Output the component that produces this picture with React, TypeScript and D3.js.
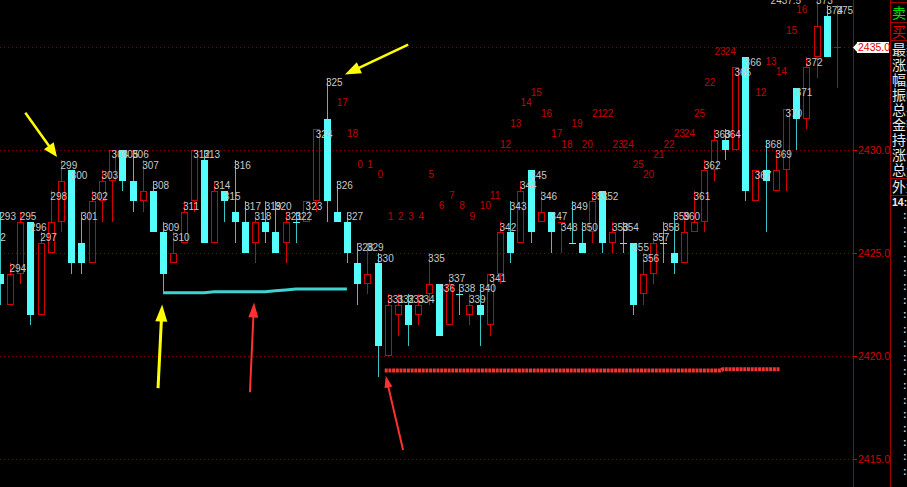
import React from 'react';
import * as d3 from 'd3';

// ---------- data ----------
const candleNo = [292,293,294,295,296,297,298,299,300,301,302,303,304,305,306,307,308,309,310,311,312,313,314,315,316,317,318,319,320,321,322,323,324,325,326,327,328,329,330,331,332,333,334,335,336,337,338,339,340,341,342,343,344,345,346,347,348,349,350,351,352,353,354,355,356,357,358,359,360,361,362,363,364,365,366,367,368,369,370,371,372,373,374,375];
const open = [2425.0,2424.0,2422.5,2424.0,2426.5,2422.0,2425.0,2426.5,2429.0,2425.5,2424.5,2427.5,2428.5,2430.0,2428.5,2427.5,2428.0,2426.0,2424.5,2425.5,2427.5,2429.5,2425.5,2428.0,2427.0,2426.5,2425.5,2426.5,2426.0,2425.5,2426.5,2426.5,2427.5,2431.5,2427.0,2426.5,2424.5,2423.5,2424.5,2420.0,2422.0,2422.5,2422.0,2423.0,2423.5,2421.5,2423.0,2422.0,2422.5,2421.5,2424.0,2426.0,2425.5,2429.0,2426.5,2427.0,2426.5,2425.5,2425.5,2426.0,2428.0,2425.5,2425.5,2425.5,2423.0,2424.0,2425.5,2425.0,2424.5,2426.0,2426.5,2429.0,2430.5,2430.0,2434.5,2427.5,2429.0,2428.0,2429.0,2433.0,2431.5,2434.5,2436.5,2435.0];
const high = [2426.0,2427.0,2424.5,2427.0,2426.5,2426.0,2428.0,2429.5,2429.0,2427.0,2428.0,2429.0,2430.0,2430.0,2430.0,2429.5,2428.5,2426.5,2426.0,2427.5,2430.0,2430.0,2428.5,2428.0,2429.5,2427.5,2427.0,2427.5,2427.5,2427.0,2427.0,2427.5,2431.0,2433.5,2428.5,2427.0,2425.5,2425.5,2425.0,2423.0,2423.0,2423.0,2423.0,2425.0,2423.5,2424.0,2423.5,2423.0,2423.5,2424.0,2426.5,2427.5,2428.5,2429.0,2428.0,2427.0,2426.5,2427.5,2426.5,2428.0,2428.0,2426.5,2426.5,2425.5,2425.0,2426.0,2426.5,2427.0,2427.0,2428.0,2429.5,2431.0,2431.0,2434.0,2434.5,2429.0,2430.5,2430.0,2432.0,2433.0,2434.5,2437.5,2437.0,2437.0];
const low = [2424.5,2422.5,2422.5,2423.5,2421.5,2422.0,2425.0,2426.0,2424.0,2424.0,2424.5,2426.5,2426.5,2428.0,2427.0,2427.0,2426.0,2423.0,2424.5,2425.5,2427.0,2425.5,2425.5,2426.5,2425.5,2425.0,2424.5,2425.5,2425.0,2424.5,2425.5,2426.5,2427.0,2426.5,2426.5,2424.5,2422.5,2423.0,2419.0,2420.0,2421.0,2420.5,2421.5,2422.5,2421.0,2421.5,2422.0,2421.5,2420.5,2421.0,2423.5,2424.5,2425.5,2425.5,2426.5,2425.0,2425.0,2425.5,2425.0,2425.5,2425.0,2425.0,2425.0,2422.0,2422.5,2423.5,2424.5,2424.0,2424.5,2426.0,2426.0,2428.5,2429.5,2430.0,2427.5,2427.5,2426.0,2428.0,2428.0,2430.0,2431.0,2433.5,2434.5,2433.0];
const close = [2425.5,2423.5,2424.0,2426.5,2422.0,2425.5,2426.5,2428.5,2424.5,2424.5,2427.5,2428.5,2430.0,2428.5,2427.5,2428.0,2426.0,2424.0,2425.0,2427.0,2430.0,2425.5,2428.0,2427.5,2426.5,2425.0,2426.5,2426.0,2425.0,2426.5,2426.5,2427.5,2431.0,2427.5,2426.5,2425.0,2423.5,2424.0,2420.5,2422.5,2422.5,2421.5,2422.5,2423.5,2421.0,2423.5,2423.0,2422.5,2422.0,2424.0,2426.0,2425.0,2428.0,2426.0,2427.0,2426.0,2426.5,2425.5,2425.0,2427.5,2425.5,2426.0,2425.5,2422.5,2424.0,2425.5,2425.5,2424.5,2426.0,2426.5,2429.0,2430.5,2430.0,2434.0,2428.0,2429.0,2428.5,2429.0,2432.0,2431.5,2434.0,2436.0,2434.5,2435.0];

// wave counter labels (red numbers)
const countNo = [326,327,328,329,330,331,332,333,334,335,336,337,338,339,340,341,342,343,344,345,346,347,348,349,350,351,352,353,354,355,356,357,358,359,360,361,362,363,364,367,368,369,370,371];
const countText = ['17','18','0','1','0','1','2','3','4','5','6','7','8','9','10','11','12','13','14','15','16','17','18','19','20','21','22','23','24','25','20','21','22','23','24','25','22','23','24','12','13','14','15','16'];
const countPrice = [2432.5,2431.0,2429.5,2429.5,2429.0,2427.0,2427.0,2427.0,2427.0,2429.0,2427.5,2428.0,2427.5,2427.0,2427.5,2428.0,2430.5,2431.5,2432.5,2433.0,2432.0,2431.0,2430.5,2431.5,2430.5,2432.0,2432.0,2430.5,2430.5,2429.5,2429.0,2430.0,2430.5,2431.0,2431.0,2432.0,2433.5,2435.0,2435.0,2433.0,2434.5,2434.0,2436.0,2437.0];

// support lines
const cyanLineNo = [309,313,314,319,320,321,322,327];
const cyanLinePrice = [2423.07,2423.07,2423.12,2423.12,2423.17,2423.21,2423.26,2423.26];
const redLineNo = [330.7,363.6,363.8,369.4];
const redLinePrice = [2419.3,2419.3,2419.36,2419.36];

// axis ticks
const priceTicks = [2435, 2430, 2425, 2420, 2415];
const lastPrice = 2435.0;
const maxPriceText = '2437.5';

// annotation arrows (tail -> head), in candle/price coordinates
const arrowTailNo = [295.5, 333.0, 308.5, 317.5, 332.5];
const arrowTailPrice = [2431.8, 2435.1, 2418.45, 2418.25, 2415.45];
const arrowHeadNo = [298.6, 326.8, 308.9, 317.9, 330.8];
const arrowHeadPrice = [2429.65, 2433.65, 2422.5, 2422.6, 2419.05];
const arrowColor = ['#ffff00', '#ffff00', '#ffff00', '#ff3030', '#ff3030'];
const arrowHeadLen = [14, 16, 17, 15, 12];
const arrowHeadWid = [12, 12, 12, 10, 8];
const arrowShaft = [2.5, 2.5, 3, 2, 2];

// right panel captions
const panelRows = ['最新', '涨跌', '幅度', '振幅', '总手', '金额', '持仓', '涨停', '总量'];

// ---------- layout ----------
const W = 907, H = 487;
const plotRight = 853;
const panelLeft = 890;

const x = d3.scaleLinear().domain([294, 375]).range([10, 837]);
const y = d3.scaleLinear().domain([2415, 2435]).range([459.3, 46.7]);

const CYAN = '#54fcfc';
const CYAN_WICK = '#3cc4c4';
const RED = '#d40000';
const GRID = '#7a0000';
const LABEL = '#c8c8c8';
const FONT = "'Liberation Sans', Arial, sans-serif";

function Candles() {
  const out: React.ReactNode[] = [];
  candleNo.forEach((n, i) => {
    const cx = Math.round(x(n)) + 0.5;
    const o = open[i], c = close[i], h = high[i], l = low[i];
    const yo = Math.round(y(o)), yc = Math.round(y(c));
    const yh = Math.round(y(h)), yl = Math.round(y(l));
    const prev = i > 0 ? close[i - 1] : o;
    if (c > o) {
      const top = yc, bot = yo;
      out.push(
        <g key={'c' + n}>
          {yh < top && <line x1={cx} x2={cx} y1={yh} y2={top} stroke={RED} strokeWidth={1} />}
          {yl > bot && <line x1={cx} x2={cx} y1={bot} y2={yl} stroke={RED} strokeWidth={1} />}
          <rect x={cx - 3} y={top + 0.5} width={6} height={bot - top - 1 + 0.0001} fill="none" stroke={RED} strokeWidth={1} />
        </g>
      );
    } else if (c < o) {
      out.push(
        <g key={'c' + n}>
          <line x1={cx} x2={cx} y1={yh} y2={yl} stroke={CYAN_WICK} strokeWidth={1} />
          <rect x={cx - 3.5} y={yo} width={7} height={yc - yo} fill={CYAN} />
        </g>
      );
    } else {
      const up = c > prev;
      out.push(
        <g key={'c' + n}>
          <line x1={cx} x2={cx} y1={yh} y2={yl} stroke={up ? RED : CYAN_WICK} strokeWidth={1} />
          <line x1={cx - 3.5} x2={cx + 3.5} y1={yo + 0.5} y2={yo + 0.5} stroke={up ? RED : CYAN} strokeWidth={1} />
        </g>
      );
    }
  });
  return <g shapeRendering="crispEdges">{out}</g>;
}

function Arrow({ i }: { i: number }) {
  const x1 = x(arrowTailNo[i]), y1 = y(arrowTailPrice[i]);
  const x2 = x(arrowHeadNo[i]), y2 = y(arrowHeadPrice[i]);
  const dx = x2 - x1, dy = y2 - y1;
  const len = Math.hypot(dx, dy);
  const ux = dx / len, uy = dy / len;
  const hl = arrowHeadLen[i], hw = arrowHeadWid[i] / 2;
  const bx = x2 - ux * hl, by = y2 - uy * hl;
  const pts = [
    [x2, y2],
    [bx - uy * hw, by + ux * hw],
    [bx + uy * hw, by - ux * hw],
  ].map(p => p.join(',')).join(' ');
  return (
    <g>
      <line x1={x1} y1={y1} x2={bx + ux} y2={by + uy} stroke={arrowColor[i]} strokeWidth={arrowShaft[i]} />
      <polygon points={pts} fill={arrowColor[i]} />
    </g>
  );
}

export default function App() {
  const lineGen = d3.line<[number, number]>().x(d => x(d[0])).y(d => y(d[1]));
  const cyanPath = lineGen(cyanLineNo.map((n, i) => [n, cyanLinePrice[i]] as [number, number]));
  const redPath = lineGen(redLineNo.map((n, i) => [n, redLinePrice[i]] as [number, number]));
  const lastY = Math.round(y(lastPrice));
  const i373 = candleNo.indexOf(373);

  return (
    <svg width={W} height={H} viewBox={`0 0 ${W} ${H}`}
      style={{ position: 'absolute', left: 0, top: 0, display: 'block', background: '#000' }}>
      <rect x={0} y={0} width={W} height={H} fill="#000" />
      <defs>
        <clipPath id="plot"><rect x={0} y={0} width={plotRight} height={H} /></clipPath>
      </defs>

      {/* grid */}
      <g shapeRendering="crispEdges">
        {priceTicks.map(p => (
          <line key={'g' + p} x1={0} x2={plotRight} y1={Math.round(y(p)) + 0.5} y2={Math.round(y(p)) + 0.5}
            stroke={GRID} strokeWidth={1} strokeDasharray="1,3" />
        ))}
      </g>

      <g clipPath="url(#plot)">
        {/* support lines */}
        <path d={cyanPath || ''} fill="none" stroke="#3ed2d2" strokeWidth={3} />
        <path d={redPath || ''} fill="none" stroke="#f03434" strokeWidth={4} strokeDasharray="3,0.7" />

        <Candles />

        {/* candle numbers */}
        <g fontFamily={FONT} fontSize={10} fill={LABEL}>
          {candleNo.map((n, i) => (
            <text key={'l' + n} x={x(n) - 0.5} y={y(high[i]) + 8.5}>{n}</text>
          ))}
          <text x={x(373) - 46} y={y(high[i373]) + 8.5}>{maxPriceText}</text>
        </g>

        {/* counters */}
        <g fontFamily={FONT} fontSize={10} fill="#c40000">
          {countNo.map((n, i) => (
            <text key={'k' + i} x={x(n)} y={y(countPrice[i]) + 8}>{countText[i]}</text>
          ))}
        </g>

        {/* arrows */}
        {arrowTailNo.map((_, i) => <Arrow key={'a' + i} i={i} />)}
      </g>

      {/* axis */}
      <g shapeRendering="crispEdges">
        <line x1={plotRight + 0.5} x2={plotRight + 0.5} y1={0} y2={H} stroke="#a00000" strokeWidth={1.5} />
        <line x1={panelLeft + 0.5} x2={panelLeft + 0.5} y1={0} y2={H} stroke="#a00000" strokeWidth={1.5} />
        {priceTicks.map(p => (
          <line key={'t' + p} x1={plotRight} x2={plotRight + 4} y1={Math.round(y(p)) + 0.5} y2={Math.round(y(p)) + 0.5} stroke={RED} />
        ))}
      </g>
      <g fontFamily={FONT} fontSize={10.5} fill={RED}>
        {priceTicks.filter(p => p !== lastPrice).map(p => (
          <text key={'at' + p} x={plotRight + 5} y={Math.round(y(p)) + 4}>{p.toFixed(1)}</text>
        ))}
      </g>
      {/* last price marker */}
      <g>
        <polygon points={`${plotRight},${lastY + 0.5} ${plotRight + 5},${lastY - 5} ${plotRight + 5},${lastY + 6}`} fill="#fff" />
        <rect x={plotRight + 4} y={lastY - 5} width={panelLeft - plotRight - 5} height={11} fill="#fff" />
        <text x={plotRight + 5} y={lastY + 4} fontFamily={FONT} fontSize={10.5} fill="#e00000">{lastPrice.toFixed(1)}</text>
      </g>

      {/* right panel */}
      <g shapeRendering="crispEdges" stroke="#a00000">
        <line x1={panelLeft} x2={W} y1={2.5} y2={2.5} />
        <line x1={panelLeft} x2={W} y1={22.5} y2={22.5} />
        <line x1={panelLeft} x2={W} y1={40.5} y2={40.5} />
        <line x1={panelLeft} x2={W} y1={178.5} y2={178.5} />
        <line x1={panelLeft} x2={W} y1={195.5} y2={195.5} />
      </g>
      <g fontFamily="'Noto Sans CJK SC', sans-serif" fontSize={14}>
        <text x={892} y={18} fill="#00e000">卖出</text>
        <text x={892} y={37} fill="#e00000">买入</text>
        {panelRows.map((t, i) => (
          <text key={'p' + i} x={892} y={54.5 + i * 15.1} fill="#e8e8e8">{t}</text>
        ))}
        <text x={892} y={192} fill="#e8e8e8">外盘</text>
      </g>
      <text x={892} y={206} fontFamily={FONT} fontSize={10.5} fontWeight="bold" fill="#f0f0f0">14:59</text>
      <g fontFamily={FONT} fontSize={10.5} fontWeight="bold" fill="#d0d0d0">
        {d3.range(19).map(k => (
          <text key={'ti' + k} x={903} y={219 + k * 14.2}>:</text>
        ))}
      </g>
    </svg>
  );
}
